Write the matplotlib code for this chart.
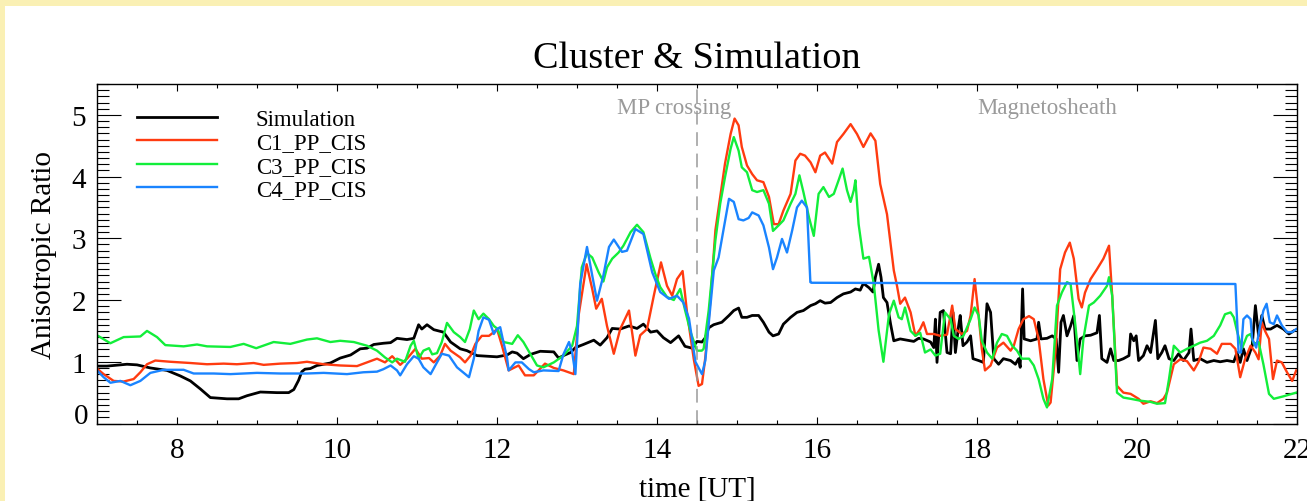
import matplotlib
matplotlib.use('Agg')
import matplotlib.pyplot as plt
from matplotlib.patches import Rectangle
from matplotlib.ticker import MultipleLocator, FuncFormatter

plt.rcParams['font.family'] = ['Liberation Serif', 'DejaVu Serif']

# hours UT / anisotropy ratio for each series
sim_t = [7.0, 7.125, 7.375, 7.5, 7.667, 7.875, 8.042, 8.167, 8.292, 8.417, 8.625, 8.771, 8.875, 9.042, 9.25, 9.396,
         9.46, 9.52, 9.56, 9.6, 9.667, 9.75, 9.917, 10.04, 10.17, 10.29, 10.375, 10.46, 10.58, 10.67, 10.75, 10.875,
         10.96, 11.02, 11.06, 11.125, 11.21, 11.33, 11.42, 11.54, 11.625, 11.75, 11.875, 12.0, 12.125, 12.19, 12.25,
         12.33, 12.42, 12.54, 12.71, 12.77, 12.83, 12.92, 12.98, 13.08, 13.21, 13.29, 13.375, 13.44, 13.54, 13.65,
         13.75, 13.83, 13.92, 14.0, 14.08, 14.17, 14.27, 14.35, 14.44, 14.5, 14.5625, 14.604, 14.646, 14.708, 14.81,
         14.9, 14.96, 15.02, 15.06, 15.125, 15.19, 15.27, 15.33, 15.4, 15.45, 15.52, 15.58, 15.67, 15.75, 15.83,
         15.92, 15.98, 16.04, 16.1, 16.17, 16.25, 16.33, 16.42, 16.48, 16.54, 16.58, 16.65, 16.7, 16.73, 16.77, 16.8,
         16.83, 16.875, 16.92, 16.96, 17.04, 17.125, 17.21, 17.27, 17.33, 17.42, 17.46, 17.48, 17.5, 17.54, 17.58,
         17.625, 17.67, 17.7, 17.73, 17.77, 17.79, 17.825, 17.875, 17.92, 17.95, 18.02, 18.08, 18.125, 18.17, 18.21,
         18.27, 18.33, 18.42, 18.48, 18.52, 18.54, 18.57, 18.59, 18.67, 18.75, 18.77, 18.8, 18.875, 18.94, 18.99,
         19.02, 19.05, 19.08, 19.125, 19.17, 19.21, 19.25, 19.29, 19.35, 19.42, 19.5, 19.53, 19.56, 19.625, 19.67,
         19.71, 19.77, 19.83, 19.9, 19.92, 19.96, 19.99, 20.02, 20.08, 20.125, 20.17, 20.23, 20.26, 20.31, 20.35,
         20.4, 20.46, 20.52, 20.58, 20.65, 20.675, 20.71, 20.79, 20.875, 20.96, 21.04, 21.125, 21.21, 21.25, 21.29,
         21.33, 21.375, 21.44, 21.48, 21.52, 21.56, 21.6, 21.67, 21.75, 21.83, 21.9, 21.96]
sim_v = [0.93, 0.93, 0.96, 0.95, 0.9, 0.86, 0.77, 0.69, 0.56, 0.42, 0.4, 0.4, 0.45, 0.51, 0.5, 0.5,
         0.55, 0.7, 0.84, 0.88, 0.89, 0.94, 0.98, 1.06, 1.11, 1.21, 1.22, 1.28, 1.3, 1.31, 1.38, 1.36,
         1.38, 1.6, 1.53, 1.6, 1.52, 1.48, 1.32, 1.21, 1.18, 1.1, 1.09, 1.08, 1.11, 1.16, 1.14,
         1.05, 1.12, 1.17, 1.16, 1.06, 1.1, 1.15, 1.23, 1.28, 1.35, 1.27, 1.39, 1.54, 1.53, 1.58,
         1.54, 1.61, 1.48, 1.5, 1.39, 1.31, 1.42, 1.25, 1.22, 1.33, 1.32, 1.39, 1.55, 1.6, 1.64,
         1.75, 1.83, 1.87, 1.72, 1.72, 1.75, 1.75, 1.64, 1.48, 1.42, 1.45, 1.61, 1.72, 1.8, 1.83,
         1.91, 1.94, 1.99, 1.95, 1.96, 2.04, 2.1, 2.13, 2.18, 2.16, 2.27, 2.2, 2.13, 2.37, 2.58, 2.37,
         2.04, 1.96, 1.61, 1.34, 1.37, 1.35, 1.33, 1.38, 1.37, 1.32, 1.23, 1.69, 0.99, 1.8, 1.83,
         1.15, 1.13, 1.8, 1.15, 1.58, 1.75, 1.26, 1.32, 1.42, 1.05, 1.02, 0.99, 1.94, 1.8, 1.05,
         0.96, 1.05, 1.02, 0.96, 1.05, 0.91, 2.18, 1.37, 1.34, 1.37, 1.64, 1.37, 1.38, 1.42, 1.37,
         0.83, 1.64, 1.75, 1.42, 1.58, 1.75, 1.02, 1.37, 1.42, 1.43, 1.47, 1.75, 1.05, 0.99, 1.21,
         1.02, 1.02, 1.05, 1.1, 1.45, 1.34, 1.42, 1.02, 1.1, 1.26, 1.15, 1.67, 1.05, 1.15, 1.26,
         1.05, 1.02, 1.13, 1.02, 1.15, 1.53, 1.02, 1.05, 0.99, 1.02, 1.0, 1.02, 1.0, 1.15, 0.99,
         1.21, 1.02, 1.26, 1.91, 1.42, 1.75, 1.53, 1.53, 1.59, 1.53, 1.45, 1.5]

c1_t = [7.0, 7.083, 7.208, 7.333, 7.458, 7.542, 7.625, 7.729, 7.917, 8.167, 8.375, 8.583, 8.75, 8.958, 9.083,
        9.292, 9.5, 9.625, 9.833, 10.04, 10.25, 10.375, 10.5, 10.6, 10.69, 10.79, 10.875, 10.98, 11.06, 11.15,
        11.21, 11.29, 11.35, 11.42, 11.54, 11.6, 11.67, 11.73, 11.81, 11.9, 11.96, 12.0, 12.0625, 12.146, 12.27,
        12.35, 12.46, 12.6, 12.71, 12.83, 12.96, 13.02, 13.12, 13.19, 13.24, 13.31, 13.375, 13.46, 13.54, 13.65,
        13.73, 13.79, 13.875, 13.96, 14.05, 14.125, 14.19, 14.25, 14.32, 14.375, 14.46, 14.52, 14.5625, 14.604,
        14.667, 14.73, 14.79, 14.85, 14.92, 14.97, 15.02, 15.06, 15.125, 15.19, 15.25, 15.33, 15.4, 15.46, 15.52,
        15.58, 15.67, 15.73, 15.79, 15.85, 15.92, 15.98, 16.04, 16.1, 16.19, 16.25, 16.33, 16.42, 16.5, 16.58,
        16.67, 16.73, 16.79, 16.875, 16.96, 17.0, 17.04, 17.1, 17.17, 17.23, 17.29, 17.33, 17.375, 17.46, 17.54,
        17.625, 17.69, 17.73, 17.81, 17.875, 17.92, 17.97, 18.02, 18.06, 18.1, 18.17, 18.25, 18.33, 18.42, 18.46,
        18.52, 18.58, 18.65, 18.71, 18.77, 18.83, 18.89, 18.92, 18.98, 19.04, 19.1, 19.16, 19.21, 19.27, 19.31,
        19.35, 19.42, 19.5, 19.58, 19.65, 19.69, 19.75, 19.83, 19.92, 20.02, 20.08, 20.17, 20.25, 20.33, 20.375,
        20.46, 20.54, 20.625, 20.71, 20.77, 20.83, 20.92, 21.0, 21.06, 21.17, 21.23, 21.29, 21.35, 21.42, 21.48,
        21.52, 21.56, 21.6, 21.65, 21.7, 21.75, 21.81, 21.875, 21.94, 21.99]
c1_v = [0.89, 0.8, 0.69, 0.68, 0.72, 0.83, 0.96, 1.02, 1.0, 0.98, 0.96, 0.97, 0.96, 0.98, 0.95,
        0.97, 0.98, 1.0, 0.96, 0.94, 0.93, 0.99, 1.05, 0.99, 1.09, 0.95, 1.05, 1.21, 1.05, 1.06,
        0.99, 1.1, 1.29, 1.18, 1.07, 0.99, 1.1, 1.29, 1.42, 1.42, 1.48, 1.53, 1.26, 0.86, 0.94,
        0.78, 0.78, 0.97, 0.9, 0.86, 0.8, 1.75, 2.58, 2.18, 1.86, 2.02, 1.58, 1.13, 1.53, 1.83,
        1.1, 1.43, 1.53, 2.07, 2.61, 2.23, 2.07, 2.34, 2.47, 1.8, 1.04, 0.61, 0.64, 1.07,
        1.99, 3.13, 3.67, 4.21, 4.69, 4.94, 4.83, 4.48, 4.18, 4.04, 3.94, 3.91, 3.67, 3.23, 3.23,
        3.45, 3.72, 4.26, 4.37, 4.34, 4.23, 4.07, 4.34, 4.39, 4.21, 4.56, 4.69, 4.85, 4.69, 4.48,
        4.7, 4.58, 3.88, 3.39, 2.48, 2.23, 1.94, 2.04, 1.8, 1.42, 1.53, 1.64, 1.45, 1.45, 1.42,
        1.44, 1.91, 1.53, 1.45, 1.5, 1.75, 2.34, 1.75, 1.21, 0.86, 0.94, 1.23, 1.31, 1.18, 1.26,
        1.53, 1.69, 1.74, 1.69, 1.37, 0.72, 0.29, 0.34, 1.15, 2.5, 2.77, 2.93, 2.67, 2.02, 1.88,
        2.12, 2.34, 2.5, 2.67, 2.88, 2.07, 0.61, 0.5, 0.48, 0.4, 0.32, 0.36, 0.33, 0.4, 0.5,
        0.96, 1.04, 1.01, 0.86, 1.0, 1.23, 1.21, 1.13, 1.29, 1.29, 1.21, 0.75, 1.04, 1.26, 1.15,
        1.04, 1.64, 1.5, 1.37, 0.72, 1.02, 0.99, 0.83, 0.69, 0.86]

c3_t = [7.0, 7.167, 7.333, 7.542, 7.625, 7.75, 7.854, 8.083, 8.25, 8.375, 8.667, 8.833, 8.99, 9.208, 9.417,
        9.625, 9.75, 9.917, 10.04, 10.21, 10.375, 10.5, 10.6, 10.69, 10.75, 10.85, 10.92, 10.96, 11.02, 11.08,
        11.15, 11.19, 11.25, 11.31, 11.375, 11.46, 11.54, 11.6, 11.66, 11.71, 11.77, 11.83, 11.9, 11.96, 12.0,
        12.083, 12.19, 12.26, 12.33, 12.42, 12.5, 12.58, 12.71, 12.83, 12.94, 13.0, 13.06, 13.125, 13.19, 13.27,
        13.33, 13.375, 13.44, 13.52, 13.58, 13.67, 13.75, 13.83, 13.92, 13.98, 14.04, 14.125, 14.21, 14.29, 14.35,
        14.42, 14.5, 14.56, 14.583, 14.646, 14.73, 14.79, 14.85, 14.92, 14.96, 15.02, 15.06, 15.125, 15.19, 15.25,
        15.33, 15.4, 15.45, 15.52, 15.58, 15.67, 15.73, 15.78, 15.83, 15.9, 15.96, 16.02, 16.08, 16.15, 16.21,
        16.27, 16.32, 16.375, 16.42, 16.46, 16.48, 16.52, 16.58, 16.65, 16.71, 16.77, 16.83, 16.9, 16.96, 17.02,
        17.06, 17.1, 17.17, 17.23, 17.29, 17.35, 17.42, 17.48, 17.54, 17.6, 17.67, 17.71, 17.77, 17.83, 17.92,
        17.97, 18.02, 18.06, 18.125, 18.19, 18.25, 18.31, 18.375, 18.44, 18.5, 18.56, 18.65, 18.71, 18.77, 18.83,
        18.875, 18.94, 19.0, 19.06, 19.125, 19.17, 19.23, 19.29, 19.33, 19.4, 19.46, 19.54, 19.625, 19.65, 19.69,
        19.75, 19.83, 19.92, 20.04, 20.17, 20.25, 20.35, 20.4, 20.46, 20.54, 20.625, 20.71, 20.79, 20.875, 20.96,
        21.04, 21.1, 21.17, 21.21, 21.25, 21.31, 21.375, 21.42, 21.46, 21.52, 21.58, 21.65, 21.71, 21.83, 21.99]
c3_v = [1.43, 1.3, 1.4, 1.41, 1.5, 1.4, 1.27, 1.25, 1.28, 1.25, 1.24, 1.29, 1.22, 1.32, 1.29,
        1.36, 1.38, 1.32, 1.34, 1.32, 1.26, 1.18, 1.07, 0.99, 1.05, 1.0, 1.26, 1.34, 1.05, 1.18,
        1.22, 1.12, 1.14, 1.32, 1.63, 1.48, 1.4, 1.32, 1.53, 1.83, 1.69, 1.78, 1.69, 1.58, 1.54,
        1.32, 1.29, 1.43, 1.32, 1.12, 0.94, 0.91, 0.99, 1.1, 1.26, 1.58, 2.53, 2.76, 2.69, 2.45,
        2.3, 2.53, 2.67, 2.77, 2.88, 3.1, 3.22, 3.1, 2.67, 2.42, 2.21, 2.05, 2.0, 2.18, 1.84,
        1.48, 1.18, 1.18, 1.21, 1.83, 2.97, 3.56, 3.99, 4.45, 4.64, 4.42, 4.15, 4.07, 3.78, 3.75,
        3.78, 3.56, 3.12, 3.21, 3.29, 3.56, 3.72, 4.02, 3.75, 3.34, 3.04, 3.72, 3.83, 3.67, 3.72,
        3.94, 4.13, 3.78, 3.59, 3.78, 3.94, 3.23, 2.67, 2.7, 2.26, 1.51, 1.0, 1.77, 1.99, 1.72,
        1.69, 1.88, 1.5, 1.42, 1.47, 1.15, 1.2, 1.1, 1.13, 1.8, 1.69, 1.42, 1.37, 1.42, 1.69,
        1.88, 1.75, 1.34, 1.15, 1.05, 1.31, 1.45, 1.42, 1.26, 1.18, 1.05, 1.05, 0.94, 0.72, 0.4,
        0.26, 0.72, 1.91, 2.12, 2.29, 2.26, 1.59, 0.8, 1.37, 1.91, 1.96, 2.07, 2.23, 2.37, 2.07,
        0.5, 0.42, 0.4, 0.37, 0.35, 0.32, 0.33, 0.72, 1.26, 1.15, 1.21, 1.26, 1.31, 1.34, 1.42,
        1.59, 1.77, 1.8, 1.72, 1.5, 1.21, 1.42, 1.45, 1.29, 1.32, 0.96, 0.48, 0.4, 0.44, 0.5]

c4_t = [7.0, 7.083, 7.167, 7.292, 7.417, 7.542, 7.667, 7.833, 8.083, 8.208, 8.458, 8.667, 9.0, 9.292, 9.625,
        9.833, 10.125, 10.33, 10.5, 10.58, 10.67, 10.75, 10.79, 10.875, 10.96, 11.02, 11.08, 11.17, 11.25, 11.31,
        11.4, 11.5, 11.65, 11.71, 11.77, 11.83, 11.9, 11.96, 12.0, 12.04, 12.08, 12.125, 12.146, 12.23, 12.31,
        12.4, 12.46, 12.58, 12.77, 12.83, 12.9, 12.94, 12.98, 13.04, 13.125, 13.19, 13.25, 13.33, 13.4, 13.46,
        13.5625, 13.625, 13.73, 13.83, 13.94, 14.04, 14.15, 14.25, 14.33, 14.4, 14.48, 14.5625, 14.604, 14.646,
        14.71, 14.77, 14.83, 14.9, 14.96, 15.02, 15.08, 15.146, 15.19, 15.27, 15.33, 15.4, 15.45, 15.5, 15.5625,
        15.625, 15.69, 15.75, 15.81, 15.875, 15.917, 15.93, 21.23, 21.27, 21.3, 21.33, 21.375, 21.42, 21.44,
        21.49, 21.54, 21.58, 21.62, 21.66, 21.71, 21.75, 21.81, 21.875, 21.94, 21.99]
c4_v = [0.86, 0.75, 0.66, 0.69, 0.62, 0.69, 0.82, 0.87, 0.87, 0.81, 0.81, 0.8, 0.82, 0.81, 0.81,
        0.82, 0.8, 0.83, 0.84, 0.88, 0.94, 0.86, 0.78, 0.96, 1.09, 1.05, 0.91, 0.8, 0.99, 1.13,
        1.1, 0.91, 0.75, 1.05, 1.5, 1.72, 1.68, 1.45, 1.53, 1.56, 1.32, 1.07, 0.86, 0.99, 0.99,
        0.88, 0.83, 0.86, 0.85, 1.12, 1.32, 1.15, 0.8, 2.26, 2.86, 2.4, 1.99, 2.4, 2.86, 2.98,
        2.78, 2.8, 3.15, 3.07, 2.45, 2.13, 2.02, 2.07, 1.96, 1.7, 1.0, 0.8, 1.02, 1.61,
        2.48, 2.69, 3.13, 3.64, 3.59, 3.31, 3.29, 3.33, 3.42, 3.37, 3.21, 2.85, 2.5, 2.69, 2.99,
        2.77, 3.13, 3.5, 3.61, 3.5, 2.29, 2.28, 2.26, 1.15, 1.15, 1.69, 1.75, 1.69, 1.37,
        1.23, 1.59, 1.83, 1.94, 1.64, 1.61, 1.75, 1.59, 1.48, 1.48, 1.53]

labels = ['Simulation', 'C1_PP_CIS', 'C3_PP_CIS', 'C4_PP_CIS']
colors = ['black', '#FF3B10', '#12EE3A', '#1A84FF']

W, H = 1307, 502
fig = plt.figure(figsize=(W / 100, H / 100), dpi=100, facecolor='#FAF0B4')
fig.add_artist(Rectangle((5 / W, 0), 1, 495 / H, transform=fig.transFigure,
                         facecolor='white', edgecolor='none', zorder=-10))
ax = fig.add_axes([97 / W, (H - 424.5) / H, 1200 / W, 339.5 / H])

series = [(sim_t, sim_v), (c1_t, c1_v), (c3_t, c3_v), (c4_t, c4_v)]
for (t, v), lab, col in zip(series, labels, colors):
    ax.plot(t, v, color=col, lw=2.0 if col == 'black' else 1.7, label=lab)

ax.axvline(14.5, color='#9a9a9a', lw=1.1, ls=(0, (9, 5)))
ax.text(13.5, 5.03, 'MP crossing', color='#9a9a9a', fontsize=16.5)
ax.text(18.0, 5.03, 'Magnetosheath', color='#9a9a9a', fontsize=16.5)

ax.set_xlim(7, 22)
ax.set_ylim(0, 5.5)
ax.xaxis.set_major_locator(MultipleLocator(2))
ax.xaxis.set_minor_locator(MultipleLocator(0.5))
ax.yaxis.set_major_locator(MultipleLocator(1))
ax.yaxis.set_minor_locator(MultipleLocator(0.1))
# the zero label sits on the axis line instead of centred on its tick
ax.yaxis.set_major_formatter(FuncFormatter(lambda y, pos: '' if y == 0 else '%d' % y))
ax.text(-0.0075, 0, '0', transform=ax.get_yaxis_transform(), ha='right', va='baseline', fontsize=21)
ax.tick_params(axis='both', which='both', direction='in', top=True, right=True, width=0.8, labelsize=21)
ax.tick_params(axis='x', which='major', length=5, pad=10)
ax.tick_params(axis='x', which='minor', length=3)
ax.tick_params(axis='y', which='major', length=17, pad=8)
ax.tick_params(axis='y', which='minor', length=8.5)
for sp in ax.spines.values():
    sp.set_linewidth(1.0)

ax.set_title('Cluster & Simulation', fontsize=27.5, pad=12)
ax.set_xlabel('time [UT]', fontsize=21, labelpad=8.5)
ax.set_ylabel('Anisotropic Ratio', fontsize=21, labelpad=10)

ax.legend(loc='upper left', bbox_to_anchor=(0.033, 0.926), frameon=False, fontsize=16.5,
          handlelength=3.5, handletextpad=1.7, labelspacing=0.1, borderpad=0, borderaxespad=0)

fig.savefig('out.png', dpi=100)
